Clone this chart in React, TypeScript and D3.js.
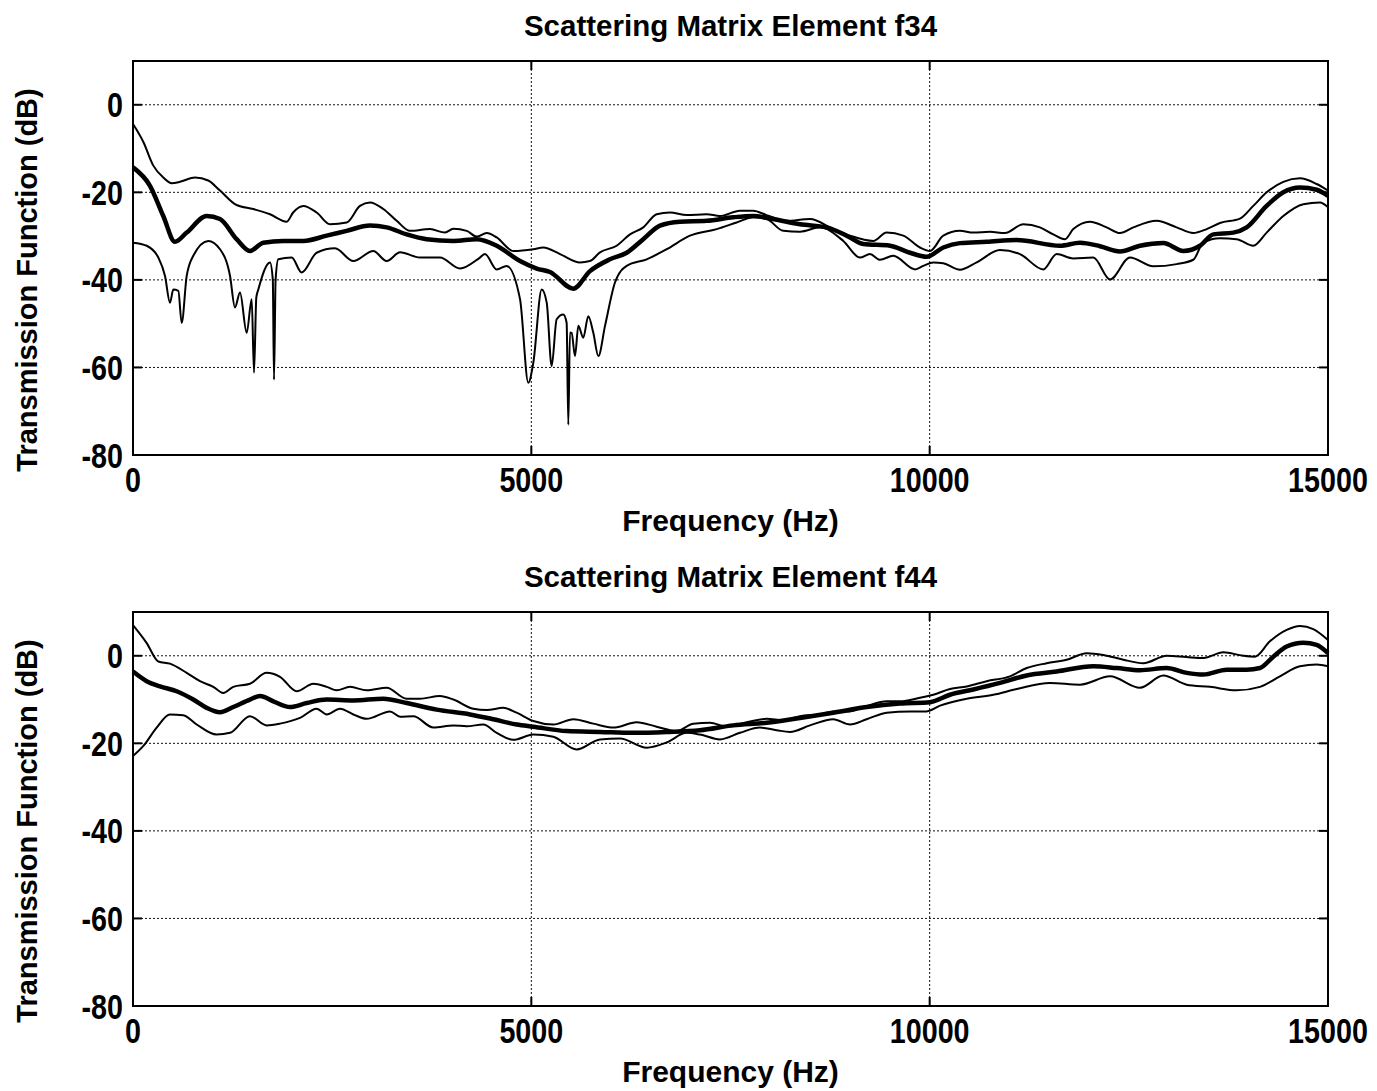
import React, { useEffect, useRef } from 'react';
import * as d3 from 'd3';

type Pt = [number, number];

const xTicks = [0, 5000, 10000, 15000];
const yTicks = [0, -20, -40, -60, -80];
const xLabel = 'Frequency (Hz)';
const yLabel = 'Transmission Function (dB)';

// f34 : [frequency Hz, dB]
const f34Upper: Pt[] = [
  [0, -4.4], [130, -8.5], [255, -13.9], [380, -16.6], [485, -17.9], [590, -17.6], [778, -16.6], [945, -17.3],
  [1092, -19.6], [1300, -22.9], [1510, -23.8], [1720, -25], [1930, -26.7], [2010, -24.6], [2138, -23.1],
  [2305, -24.6], [2473, -27.3], [2682, -26.9], [2849, -23.1], [2975, -22.3], [3142, -23.8], [3310, -26.5],
  [3477, -28.8], [3728, -28.4], [3916, -29.2], [4021, -28.3], [4189, -28.8], [4314, -30.1], [4440, -29.3],
  [4565, -30.3], [4774, -33.4], [5025, -33], [5150, -32.6], [5360, -34.1], [5611, -36], [5736, -35.7],
  [5862, -33.7], [6071, -32.2], [6238, -29.6], [6405, -28], [6573, -25], [6740, -24.6], [6949, -25.2],
  [7200, -25], [7367, -25.4], [7618, -24.2], [7785, -24.2], [7952, -25.2], [8200, -26.5], [8498, -26.1],
  [8790, -28.4], [9000, -29.9], [9292, -31.1], [9460, -29.2], [9669, -29.9], [9878, -32.6], [10004, -33.4],
  [10171, -29.9], [10380, -28.8], [10548, -29.2], [10757, -29], [10945, -29.3], [11175, -27.3], [11384, -28],
  [11552, -29.6], [11698, -30.7], [11803, -28.4], [12012, -26.7], [12222, -28], [12389, -29.3], [12556, -28],
  [12849, -26.5], [13100, -28], [13309, -29.3], [13477, -28.4], [13644, -27], [13895, -26], [14062, -23.1],
  [14230, -20], [14439, -17.6], [14648, -16.8], [14858, -18.1], [15000, -19.6],
];

const f34Mean: Pt[] = [
  [0, -14.3], [213, -18.5], [380, -25.4], [527, -31.3], [674, -29.2], [925, -25.4], [1092, -26.1],
  [1301, -30.7], [1468, -33.4], [1636, -31.5], [1887, -31.1], [2138, -31.1], [2431, -29.9], [2682, -28.8],
  [2975, -27.6], [3184, -28], [3435, -29.6], [3686, -30.7], [4021, -31.1], [4314, -30.7], [4565, -32.2],
  [4858, -35.7], [5067, -37.4], [5234, -38.2], [5527, -42], [5736, -38], [5987, -35.3], [6197, -33.8],
  [6405, -30.7], [6615, -27.6], [6866, -26.7], [7201, -26.5], [7535, -25.7], [7786, -25.4], [8037, -26.1],
  [8372, -27.3], [8707, -28], [8958, -29.9], [9167, -31.8], [9502, -32.2], [9753, -33.8], [9962, -34.7],
  [10171, -32.6], [10380, -31.6], [10715, -31.3], [11092, -30.9], [11636, -32.2], [11887, -31.5],
  [12138, -32.3], [12389, -33.5], [12640, -32.2], [12933, -31.6], [13184, -33.4], [13393, -32.2],
  [13560, -29.6], [13811, -29.2], [13979, -28], [14230, -23.1], [14439, -20], [14648, -18.9],
  [14858, -19.4], [15000, -20.8],
];

const f34Lower: Pt[] = [
  [0, -31.5], [172, -32.2], [318, -34.9], [402, -39.1], [464, -45.2], [506, -42.2], [569, -42.5],
  [611, -49.8], [674, -39.1], [757, -34.5], [945, -31.1], [1092, -33], [1218, -39.1], [1280, -46.3],
  [1343, -42.9], [1427, -52.1], [1490, -44.4], [1519, -61.2], [1548, -44], [1573, -42.2], [1720, -36],
  [1755, -40], [1770, -62.8], [1790, -40], [1824, -35.3], [1992, -34.9], [2117, -38.3], [2305, -33.8],
  [2536, -32.8], [2766, -35.7], [3016, -33.4], [3184, -35.7], [3352, -33.7], [3602, -34.9], [3853, -34.9],
  [4104, -37.4], [4355, -34.9], [4418, -34.1], [4565, -37.6], [4690, -36.8], [4858, -44.4], [4962, -63.5],
  [5025, -58.9], [5130, -42.2], [5193, -45.2], [5255, -59.7], [5318, -49], [5401, -47.9], [5443, -49.8],
  [5464, -73.1], [5485, -52], [5506, -52.1], [5548, -57.4], [5590, -50.5], [5652, -53.2], [5715, -48.3],
  [5778, -52.1], [5841, -57.4], [5925, -50.5], [6050, -40.6], [6197, -36.8], [6448, -35.3], [6699, -33],
  [6991, -29.9], [7327, -28.4], [7577, -26.9], [7786, -25.7], [7954, -26.1], [8163, -28.8], [8372, -29],
  [8623, -28], [8916, -31.1], [9125, -34.9], [9251, -34.1], [9376, -35.4], [9543, -34.5], [9816, -37.6],
  [9920, -36.8], [10046, -36], [10171, -36.2], [10380, -37.7], [10590, -36], [10882, -33.2], [11133, -34.1],
  [11426, -37.6], [11594, -34.1], [11803, -35.1], [12054, -34.9], [12264, -39.9], [12514, -34.9],
  [12807, -36.9], [13100, -36.4], [13309, -35.4], [13435, -31.5], [13644, -30.5], [13853, -30.7],
  [14062, -32.2], [14230, -29.2], [14439, -25.4], [14690, -22.7], [14899, -22.3], [15000, -23.4],
];

// f44 : [frequency Hz, dB]
const f44Upper: Pt[] = [
  [0, 7], [172, 2.9], [318, -1.3], [464, -1.8], [674, -3.9], [841, -5.8], [1008, -7.1], [1133, -8.5],
  [1259, -7.1], [1468, -6.4], [1678, -3.9], [1845, -4.8], [2055, -8.1], [2263, -6.4], [2431, -7.1],
  [2557, -7.9], [2724, -7.1], [2933, -7.9], [3184, -7.3], [3435, -9.8], [3602, -9.8], [3853, -9.2],
  [4021, -10], [4272, -12.1], [4440, -12.4], [4648, -11.9], [4816, -13], [5025, -14.9], [5276, -15.7],
  [5527, -14.5], [5778, -15.5], [6029, -16.4], [6322, -15.2], [6573, -16.2], [6824, -17.2], [7033, -15.5],
  [7243, -15.3], [7452, -16.2], [7703, -15.2], [7954, -14.4], [8163, -14.7], [8372, -13.8], [8623, -13.4],
  [8790, -12.7], [9000, -12.7], [9209, -11.5], [9460, -10.4], [9627, -10.4], [9878, -9.6], [10046, -8.9],
  [10255, -7.6], [10465, -7], [10716, -5.8], [11008, -4.7], [11218, -2.8], [11469, -1.7], [11720, -0.9],
  [11971, 0.6], [12180, 0.2], [12431, -0.9], [12682, -1.7], [12975, 0], [13226, -0.3], [13435, -0.5],
  [13686, 0.8], [13937, 0], [14083, -0.2], [14271, 3.3], [14481, 5.9], [14648, 6.8], [14815, 6.1],
  [15000, 3.6],
];

const f44Mean: Pt[] = [
  [0, -3.6], [172, -5.8], [339, -7], [548, -8.1], [757, -10], [925, -11.9], [1092, -12.9], [1259, -11.7],
  [1468, -10], [1594, -9.2], [1761, -10.4], [1971, -11.7], [2180, -10.8], [2431, -10], [2766, -10.2],
  [3142, -9.8], [3435, -10.8], [3812, -12.3], [4230, -13.4], [4523, -14.5], [4816, -15.7], [5025, -16.2],
  [5443, -17.2], [5862, -17.4], [6280, -17.6], [6699, -17.4], [7117, -17], [7535, -15.9], [7954, -15.3],
  [8372, -14.2], [8790, -13], [9209, -11.7], [9627, -10.9], [10004, -10.6], [10255, -8.9], [10548, -7.7],
  [10882, -6.2], [11218, -4.5], [11594, -3.6], [12054, -2.4], [12347, -2.8], [12640, -3.3], [12975, -2.8],
  [13226, -3.9], [13435, -4.3], [13728, -3.2], [13979, -3.2], [14146, -2.8], [14313, -0.2], [14481, 2.1],
  [14690, 3], [14858, 2.5], [15000, 0.6],
];

const f44Lower: Pt[] = [
  [0, -22.9], [130, -20.6], [297, -16.4], [464, -13.4], [631, -13.6], [799, -15.7], [1050, -18],
  [1218, -17.6], [1468, -13.8], [1678, -15.9], [1845, -15.5], [2096, -14.2], [2305, -12.1], [2431, -13.4],
  [2598, -12.1], [2766, -13.4], [2933, -14.4], [3226, -12.7], [3352, -13.9], [3519, -13.8], [3770, -16.4],
  [4021, -15.9], [4189, -16.1], [4397, -15.7], [4565, -17.6], [4774, -19.2], [5025, -18], [5276, -18.5],
  [5569, -21.4], [5862, -19.1], [6113, -18.9], [6448, -21], [6699, -19.8], [6950, -17.6], [7117, -18],
  [7368, -19.1], [7619, -17.6], [7870, -16.4], [8079, -17], [8246, -17.4], [8498, -15.9], [8790, -14.5],
  [9000, -15.7], [9209, -14.5], [9460, -13], [9753, -12.7], [9962, -12.7], [10130, -11.4], [10465, -9.8],
  [10799, -8.9], [11092, -7.6], [11510, -6.2], [11887, -6.6], [12264, -4.7], [12640, -7.3], [12933, -4.5],
  [13226, -6.6], [13518, -7.1], [13853, -7.9], [14146, -7.1], [14397, -4.7], [14648, -2.4], [14858, -2],
  [15000, -2.4],
];

const panels = [
  { title: 'Scattering Matrix Element f34', upper: f34Upper, mean: f34Mean, lower: f34Lower },
  { title: 'Scattering Matrix Element f44', upper: f44Upper, mean: f44Mean, lower: f44Lower },
];

const App = () => {
  const d3Container = useRef<HTMLDivElement>(null);

  useEffect(() => {
    if (!d3Container.current) return;
    d3.select(d3Container.current).selectAll('*').remove();

    const W = 1377;
    const H = 1091;
    const left = 133;
    const right = 1328;
    const plotH = 394;
    const tops = [61, 612];
    const font = "'Liberation Sans', Arial, Helvetica, sans-serif";

    const svg = d3
      .select(d3Container.current)
      .append('svg')
      .attr('width', W)
      .attr('height', H)
      .style('display', 'block')
      .style('background', '#fff');

    panels.forEach((p, k) => {
      const top = tops[k];
      const bottom = top + plotH;
      const x = d3.scaleLinear().domain([0, 15000]).range([left, right]);
      const y = d3.scaleLinear().domain([-80, 10]).range([bottom, top]);
      const g = svg.append('g');

      // dotted grid
      g.selectAll('.hgrid')
        .data(yTicks.filter(v => v > -80))
        .join('line')
        .attr('x1', left)
        .attr('x2', right)
        .attr('y1', d => y(d))
        .attr('y2', d => y(d))
        .attr('stroke', '#111')
        .attr('stroke-width', 1)
        .attr('stroke-dasharray', '2,2');

      g.selectAll('.vgrid')
        .data(xTicks.filter(v => v > 0 && v < 15000))
        .join('line')
        .attr('x1', d => x(d))
        .attr('x2', d => x(d))
        .attr('y1', top)
        .attr('y2', bottom)
        .attr('stroke', '#111')
        .attr('stroke-width', 1)
        .attr('stroke-dasharray', '2,2');

      // inward ticks
      const tk = 9;
      yTicks.forEach(v => {
        g.append('line').attr('x1', left).attr('x2', left + tk).attr('y1', y(v)).attr('y2', y(v))
          .attr('stroke', '#000').attr('stroke-width', 2);
        g.append('line').attr('x1', right - tk).attr('x2', right).attr('y1', y(v)).attr('y2', y(v))
          .attr('stroke', '#000').attr('stroke-width', 2);
      });
      xTicks.forEach(v => {
        g.append('line').attr('x1', x(v)).attr('x2', x(v)).attr('y1', bottom).attr('y2', bottom - tk)
          .attr('stroke', '#000').attr('stroke-width', 2);
        g.append('line').attr('x1', x(v)).attr('x2', x(v)).attr('y1', top).attr('y2', top + tk)
          .attr('stroke', '#000').attr('stroke-width', 2);
      });

      // curves
      const line = d3
        .line<Pt>()
        .x(d => x(d[0]))
        .y(d => y(d[1]))
        .curve(d3.curveMonotoneX);

      [p.upper, p.lower].forEach(s => {
        g.append('path')
          .attr('d', line(s))
          .attr('fill', 'none')
          .attr('stroke', '#000')
          .attr('stroke-width', 2)
          .attr('stroke-linejoin', 'round');
      });
      g.append('path')
        .attr('d', line(p.mean))
        .attr('fill', 'none')
        .attr('stroke', '#000')
        .attr('stroke-width', 4.5)
        .attr('stroke-linejoin', 'round');

      // frame
      g.append('rect')
        .attr('x', left)
        .attr('y', top)
        .attr('width', right - left)
        .attr('height', plotH)
        .attr('fill', 'none')
        .attr('stroke', '#000')
        .attr('stroke-width', 2);

      // tick labels (narrow, tall digits)
      xTicks.forEach(v => {
        g.append('text')
          .attr('transform', `translate(${x(v)},${bottom + 37}) scale(0.82,1)`)
          .attr('text-anchor', 'middle')
          .style('font-family', font)
          .style('font-weight', 'bold')
          .style('font-size', '35px')
          .text(String(v));
      });
      yTicks.forEach(v => {
        g.append('text')
          .attr('transform', `translate(123,${y(v)}) scale(0.82,1)`)
          .attr('text-anchor', 'end')
          .attr('dy', '0.36em')
          .style('font-family', font)
          .style('font-weight', 'bold')
          .style('font-size', '35px')
          .text(String(v));
      });

      // title
      g.append('text')
        .attr('x', (left + right) / 2)
        .attr('y', top - 25)
        .attr('text-anchor', 'middle')
        .style('font-family', font)
        .style('font-weight', 'bold')
        .style('font-size', '29.5px')
        .text(p.title);

      // x label
      g.append('text')
        .attr('x', (left + right) / 2)
        .attr('y', bottom + 76)
        .attr('text-anchor', 'middle')
        .style('font-family', font)
        .style('font-weight', 'bold')
        .style('font-size', '30px')
        .text(xLabel);

      // y label
      g.append('text')
        .attr('transform', `translate(37,${top + 219}) rotate(-90)`)
        .attr('text-anchor', 'middle')
        .style('font-family', font)
        .style('font-weight', 'bold')
        .style('font-size', '29px')
        .text(yLabel);
    });
  }, []);

  return <div ref={d3Container} style={{ position: 'absolute', left: 0, top: 0 }}></div>;
};

export default App;
